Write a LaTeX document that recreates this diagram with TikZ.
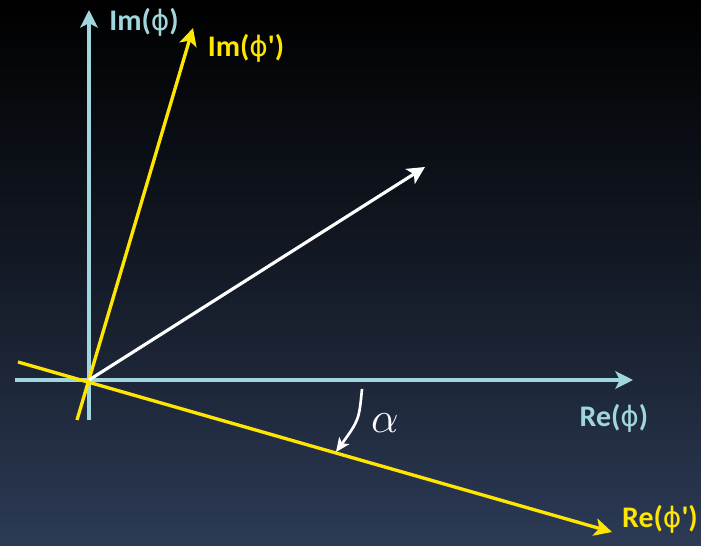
\documentclass[tikz,border=0pt]{standalone}
\usepackage{fontspec}
\setmainfont{Carlito}
\newfontfamily\phifont{DejaVu Sans}
\usetikzlibrary{arrows.meta}
\usetikzlibrary{positioning}
\usepackage{amsmath}

\definecolor{axisblue}{RGB}{160,215,222}
\definecolor{primeyellow}{RGB}{255,230,0}
\definecolor{bgbottom}{RGB}{44,58,85}

\newcommand{\ph}{{\phifont\mdseries\fontsize{16}{18}\selectfont ϕ}}
\newcommand{\prm}{\textquotesingle}

\begin{document}
\begin{tikzpicture}[
    axis/.style={draw=axisblue, line width=2.2pt, -{Stealth[length=10pt, width=10pt, inset=2.5pt]}},
    rotaxis/.style={draw=primeyellow, line width=1.9pt, -{Stealth[length=10pt, width=10pt, inset=2.5pt]}},
    vec/.style={draw=white, line width=1.8pt, -{Stealth[length=10pt, width=10pt, inset=2.5pt]}},
    lbl/.style={font=\fontsize{17}{20}\selectfont\bfseries, inner sep=0pt}
]

% --- Background ---
\shade[top color=black, bottom color=bgbottom, middle color=black!55!bgbottom]
    (0,0) rectangle (14.02,10.9);
\useasboundingbox (0,0) rectangle (14.02,10.9);

% --- Points ---
\coordinate (O) at (1.78,3.30);
\coordinate (reStart) at (0.30,3.30);
\coordinate (reEnd) at (12.66,3.30);
\coordinate (imStart) at (1.78,2.50);
\coordinate (imEnd) at (1.78,10.70);
\coordinate (rePStart) at (0.36,3.66);
\coordinate (rePEnd) at (12.24,0.26);
\coordinate (imPStart) at (1.54,2.50);
\coordinate (imPEnd) at (3.86,10.34);
\coordinate (tip) at (8.50,7.56);
\coordinate (arcStart) at (7.24,3.12);
\coordinate (arcEnd) at (6.72,1.86);

% --- Original axes ---
\draw[axis] (reStart) -- (reEnd);
\draw[axis] (imStart) -- (imEnd);

% --- Rotated axes ---
\draw[rotaxis] (rePStart) -- (rePEnd);
\draw[rotaxis] (imPStart) -- (imPEnd);

% --- Vector ---
\draw[vec] (O) -- (tip);

% --- Angle ---
\draw[draw=white, line width=1.5pt, -{Stealth[length=8pt, width=7pt, inset=2pt]}]
    (arcStart) .. controls (7.18,2.50) .. (arcEnd);
\node[text=white, inner sep=0pt] (alpha) at (7.70,2.44) {\fontsize{28}{30}\selectfont $\alpha$};

% --- Labels ---
\node[lbl, text=axisblue] (imLbl) at (2.88,10.46) {Im(\ph)};
\node[lbl, text=primeyellow] (imPLbl) at (4.92,9.94) {Im(\ph\prm)};
\node[lbl, text=axisblue] (reLbl) at (12.28,2.54) {Re(\ph)};
\node[lbl, text=primeyellow] (rePLbl) at (13.20,0.52) {Re(\ph\prm)};

\end{tikzpicture}
\end{document}
